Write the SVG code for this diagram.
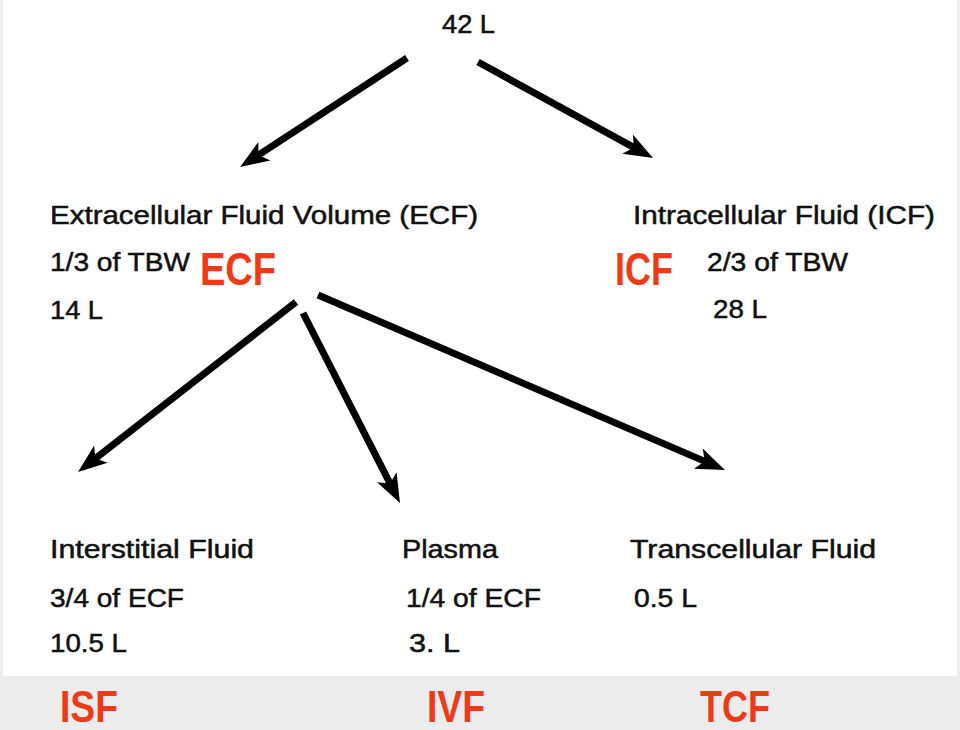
<svg xmlns="http://www.w3.org/2000/svg" width="960" height="730" viewBox="0 0 960 730">
<style>
.t{font-family:"Liberation Sans",Arial,sans-serif;font-size:25px;fill:#111;stroke:#111;stroke-width:0.5;}
.n{font-family:"Liberation Sans",Arial,sans-serif;font-size:25px;fill:#111;stroke:#111;stroke-width:0.5;}
.r{font-family:"Liberation Sans",Arial,sans-serif;font-weight:bold;font-size:46px;fill:#ee3a17;}
.b{font-family:"Liberation Sans",Arial,sans-serif;font-weight:bold;font-size:44px;fill:#ee3a17;}
.c line{stroke:#000;stroke-width:7;marker-end:url(#ah);}
</style>
<defs>
<marker id="ah" markerUnits="userSpaceOnUse" markerWidth="60" markerHeight="60" refX="0" refY="0" orient="auto" overflow="visible">
<path d="M20,0 L-9,-11 L-2,0 L-9,11 Z" fill="#000"/>
</marker>
</defs>
<rect x="0" y="0" width="960" height="730" fill="#ececec"/>
<rect x="3" y="0" width="954" height="676" fill="#ffffff"/>
<g class="c" id="connectors">
<line x1="407" y1="58" x2="256.8" y2="156.1"/>
<line x1="478" y1="62" x2="635.5" y2="148.4"/>
<line x1="296" y1="302" x2="93.8" y2="459.7"/>
<line x1="303" y1="313" x2="390.9" y2="485.2"/>
<line x1="318" y1="295" x2="706.6" y2="462.1"/>
</g>
<g id="tbw"><text class="t" x="442" y="33" textLength="53" lengthAdjust="spacingAndGlyphs">42 L</text></g>
<g id="ecf">
<text class="t" x="50" y="224" textLength="428" lengthAdjust="spacingAndGlyphs">Extracellular Fluid Volume (ECF)</text>
<text class="t" x="50" y="271" textLength="140" lengthAdjust="spacingAndGlyphs">1/3 of TBW</text>
<text class="t" x="50" y="319" textLength="53" lengthAdjust="spacingAndGlyphs">14 L</text>
<text class="r" x="200" y="285" textLength="76" lengthAdjust="spacingAndGlyphs">ECF</text>
</g>
<g id="icf">
<text class="t" x="633" y="224" textLength="302" lengthAdjust="spacingAndGlyphs">Intracellular Fluid (ICF)</text>
<text class="t" x="707" y="271" textLength="141" lengthAdjust="spacingAndGlyphs">2/3 of TBW</text>
<text class="t" x="713" y="318" textLength="54" lengthAdjust="spacingAndGlyphs">28 L</text>
<text class="r" x="615" y="285" textLength="58" lengthAdjust="spacingAndGlyphs">ICF</text>
</g>
<g id="isf">
<text class="n" x="50" y="558" textLength="204" lengthAdjust="spacingAndGlyphs">Interstitial Fluid</text>
<text class="n" x="50" y="607" textLength="134" lengthAdjust="spacingAndGlyphs">3/4 of ECF</text>
<text class="n" x="50" y="652" textLength="77" lengthAdjust="spacingAndGlyphs">10.5 L</text>
<text class="b" x="60" y="722" textLength="58" lengthAdjust="spacingAndGlyphs">ISF</text>
</g>
<g id="plasma">
<text class="n" x="402" y="558" textLength="96" lengthAdjust="spacingAndGlyphs">Plasma</text>
<text class="n" x="406" y="607" textLength="135" lengthAdjust="spacingAndGlyphs">1/4 of ECF</text>
<text class="n" x="409" y="652" textLength="51" lengthAdjust="spacingAndGlyphs">3. L</text>
<text class="b" x="427" y="722" textLength="58" lengthAdjust="spacingAndGlyphs">IVF</text>
</g>
<g id="tcf">
<text class="n" x="630" y="558" textLength="246" lengthAdjust="spacingAndGlyphs">Transcellular Fluid</text>
<text class="n" x="634" y="607" textLength="63" lengthAdjust="spacingAndGlyphs">0.5 L</text>
<text class="b" x="700" y="722" textLength="70" lengthAdjust="spacingAndGlyphs">TCF</text>
</g>
</svg>
